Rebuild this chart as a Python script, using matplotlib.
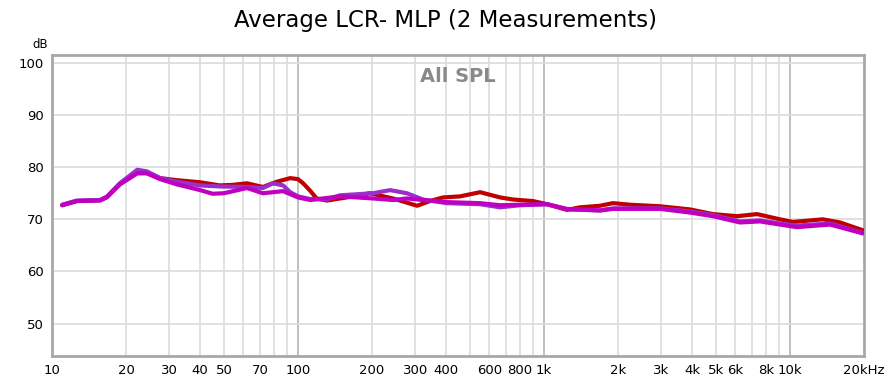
import numpy as np
import matplotlib
matplotlib.use('Agg')
import matplotlib.pyplot as plt

# values (Hz, dB)
rotF = [11, 12.6, 15.7, 16.7, 18.9, 22.2, 24.3, 27.5, 32.2, 40, 48, 54, 62, 72, 82, 93,
        100, 105, 112, 119, 131, 158, 196, 243, 277, 305, 344, 389, 456, 550, 663, 748,
        902, 1030, 1240, 1400, 1690, 1906, 2237, 2964, 3920, 4865, 6093, 7346, 9104,
        10280, 13600, 15970, 19800]
rotDb = [72.7, 73.5, 73.7, 74.3, 76.9, 79.2, 79.0, 77.9, 77.5, 77.1, 76.5, 76.6, 76.9,
         76.2, 77.2, 77.9, 77.7, 76.9, 75.5, 74.0, 73.6, 74.2, 75.0, 74.0, 73.2, 72.6,
         73.5, 74.2, 74.4, 75.2, 74.2, 73.8, 73.5, 72.9, 71.8, 72.3, 72.6, 73.1, 72.8,
         72.5, 71.9, 71.0, 70.6, 71.0, 70.0, 69.5, 70.0, 69.4, 67.9]

lilaF = [11, 12.6, 15.7, 16.7, 18.9, 22.2, 24.3, 27.5, 32.2, 40, 48, 62, 72, 79, 87, 93,
         100, 112, 131, 148, 202, 237, 277, 322, 403, 550, 663, 799, 1030, 1240, 1690,
         1906, 2964, 3920, 4865, 6265, 7555, 9104, 10670, 14550, 19800]
lilaDb = [72.8, 73.6, 73.7, 74.3, 76.9, 79.5, 79.2, 77.9, 77.2, 76.5, 76.3, 76.2, 76.0,
          76.9, 76.5, 75.2, 74.4, 73.9, 73.8, 74.6, 75.0, 75.6, 75.0, 73.8, 73.1, 72.9,
          72.3, 72.7, 72.9, 71.9, 71.7, 72.1, 72.1, 71.5, 70.8, 69.6, 69.8, 69.2, 68.8,
          69.2, 67.4]

magF = [11, 12.6, 15.7, 16.7, 18.9, 22.2, 24.3, 27.5, 32.2, 40, 45, 50, 62, 72, 87, 100,
        112, 148, 202, 243, 277, 322, 403, 550, 663, 799, 1030, 1240, 1690, 1906, 2964,
        3920, 4865, 6265, 7555, 9104, 10670, 14550, 19800]
magDb = [72.7, 73.5, 73.6, 74.2, 76.7, 78.8, 78.8, 77.7, 76.7, 75.6, 74.9, 75.0, 76.0,
         75.0, 75.4, 74.2, 73.7, 74.4, 74.0, 73.7, 74.0, 73.7, 73.3, 73.1, 72.7, 72.8,
         72.9, 72.0, 71.7, 72.0, 72.0, 71.3, 70.6, 69.4, 69.6, 69.0, 68.5, 69.0, 67.3]

xTicks = [10, 20, 30, 40, 50, 70, 100, 200, 300, 400, 600, 800, 1000, 2000, 3000, 4000,
          5000, 6000, 8000, 10000, 20000]
xLabels = ['10', '20', '30', '40', '50', '70', '100', '200', '300', '400', '600', '800',
           '1k', '2k', '3k', '4k', '5k', '6k', '8k', '10k', '20kHz']
yTicks = [50, 60, 70, 80, 90, 100]

fig = plt.figure(figsize=(8.9, 3.78), dpi=100)
ax = fig.add_axes([52/890, 22/378, 812/890, 301/378])
ax.set_xscale('log')
ax.set_xlim(10, 20000)
ax.set_ylim(43.8, 101.5)

# grid: every 1..9 per decade, decades darker
for dek in [10, 100, 1000, 10000]:
    for m in range(1, 10):
        f = dek * m
        if f <= 10 or f >= 20000:
            continue
        warna = '#b4b4b4' if m == 1 else '#dcdcdc'
        ax.axvline(f, color=warna, lw=1.2, zorder=0)
for y in yTicks:
    ax.axhline(y, color='#dcdcdc', lw=1.2, zorder=0)

ax.plot(rotF, rotDb, color='#c00000', lw=3, solid_capstyle='round',
        solid_joinstyle='round', zorder=3)
ax.plot(lilaF, lilaDb, color='#9a30cc', lw=3, solid_capstyle='round',
        solid_joinstyle='round', zorder=4)
ax.plot(magF, magDb, color='#c000c0', lw=3, solid_capstyle='round',
        solid_joinstyle='round', zorder=5)

ax.set_xticks(xTicks)
ax.set_xticklabels(xLabels)
ax.xaxis.set_minor_locator(matplotlib.ticker.NullLocator())
ax.set_yticks(yTicks)
ax.tick_params(length=0, labelsize=9.5, pad=6)
for s in ax.spines.values():
    s.set_color('#a8a8a8')
    s.set_linewidth(2)

ax.text(0.5, 0.96, 'All SPL', transform=ax.transAxes, ha='center', va='top',
        fontsize=14, fontweight='bold', color='#8a8a8a')
fig.text(40/890, 1 - 45/378, 'dB', ha='center', va='center', fontsize=8.5)
fig.text(0.5, 1 - 20/378, 'Average LCR- MLP (2 Measurements)', ha='center', va='center',
         fontsize=16.5)

fig.savefig('out.png', dpi=100)
